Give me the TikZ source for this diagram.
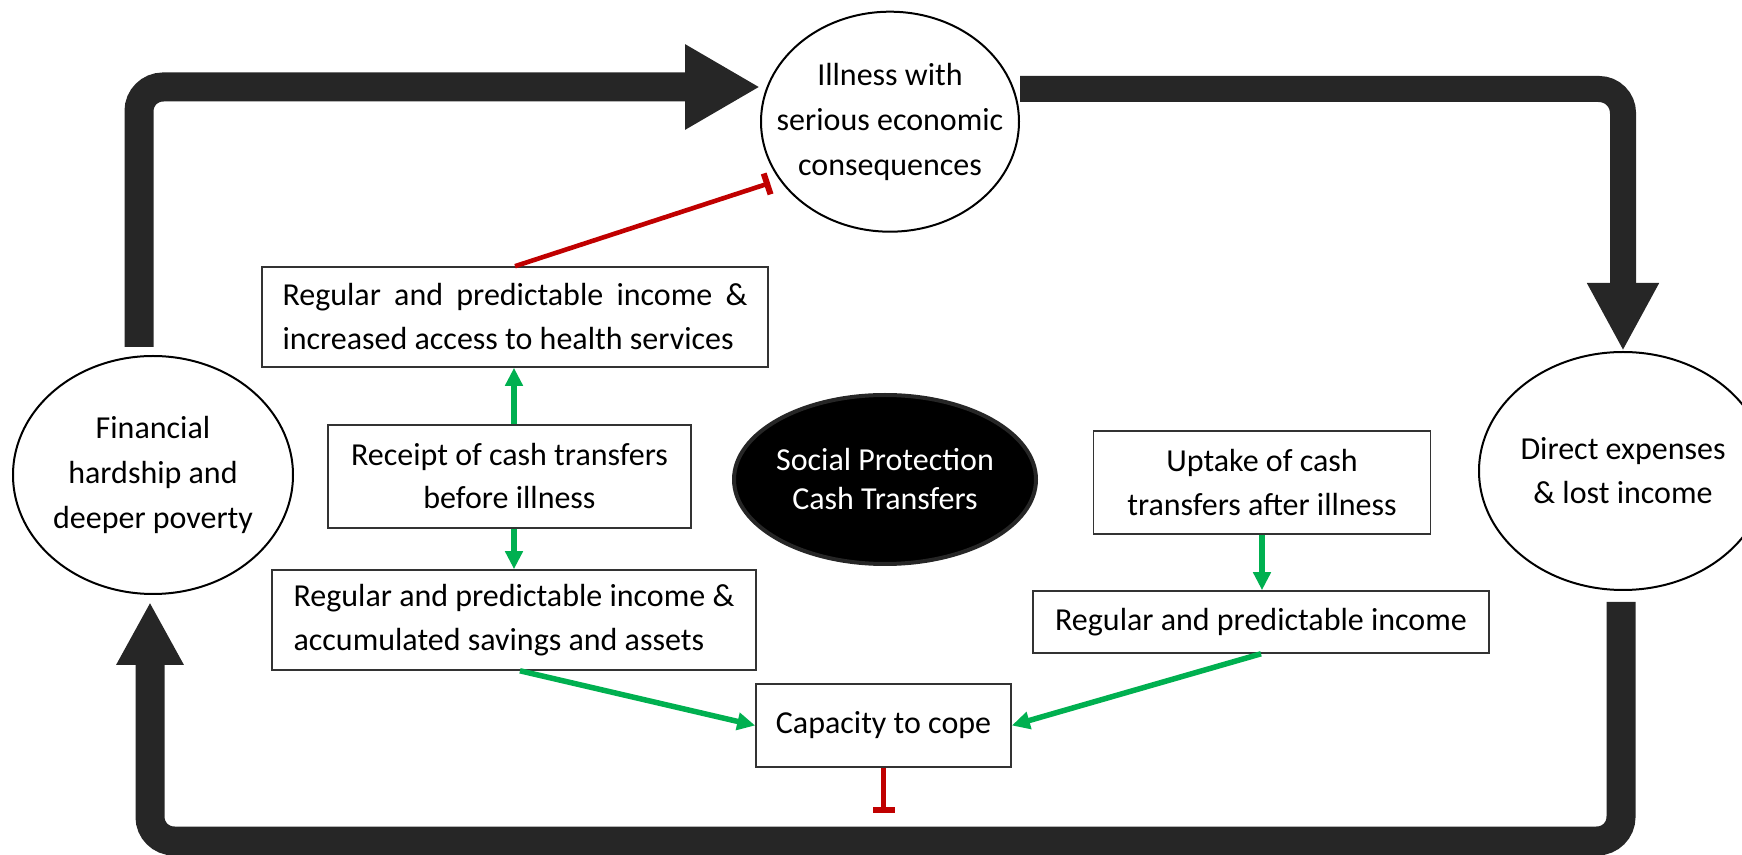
\documentclass[tikz,border=0pt]{standalone}
\usepackage{fontspec}
\setmainfont{Carlito}
\usetikzlibrary{arrows.meta,shapes.geometric,calc}
\definecolor{loopgray}{RGB}{38,38,38}
\definecolor{boostgreen}{RGB}{0,176,80}
\definecolor{blockred}{RGB}{192,0,0}
\begin{document}
\begin{tikzpicture}[x=0.5pt,y=-0.5pt,
  txt/.style={font=\fontsize{16}{22}\selectfont},
  stagebox/.style={draw=black!80, line width=0.8pt, fill=white, inner sep=0pt, align=center, txt},
  bubble/.style={ellipse, draw=black, line width=1pt, inner sep=0pt},
  cycleflow/.style={draw=loopgray, rounded corners=12pt},
  promote/.style={draw=boostgreen, line width=2.75pt, -{Triangle[length=9pt,width=8.5pt]}},
  inhibit/.style={draw=blockred, line width=2.3pt, -{Bar[width=11pt,line width=3pt]}},
]
\useasboundingbox (0,0) rectangle (1742,855);

% outer cycle states
\node[bubble, minimum width=129pt, minimum height=110pt,
  label={[txt, align=center, font=\fontsize{16}{22.5}\selectfont]center:{Illness with\\serious economic\\consequences}}]
  (illness) at (890,121.7) {};
\node[bubble, minimum width=140pt, minimum height=119pt,
  label={[txt, align=center, font=\fontsize{16}{22.5}\selectfont]center:{Financial\\hardship and\\deeper poverty}}]
  (fin) at (153,475) {};
\node[bubble, minimum width=144pt, minimum height=119pt,
  label={[txt, align=center]center:{Direct expenses\\\& lost income}}]
  (direct) at (1623,471) {};

% central programme
\node[ellipse, fill=black, draw=black!85, line width=2pt, inner sep=0pt,
  minimum width=151pt, minimum height=84.5pt,
  label={[txt, text=white, align=center, font=\fontsize{16}{19.5}\selectfont]center:{Social Protection\\Cash Transfers}}]
  (sp) at (885,479.5) {};

% pathways
\node[stagebox, minimum width=253pt, minimum height=50pt, align=justify, text width=232.5pt]
  (A) at (515,317) {Regular and predictable income \&\linebreak increased access to health services};
\node[stagebox, minimum width=181.5pt, minimum height=51.5pt, font=\fontsize{16}{21.5}\selectfont]
  (B) at (509.5,476.5) {Receipt of cash transfers\\before illness};
\node[stagebox, minimum width=242pt, minimum height=50pt, align=left]
  (C) at (514,620) {Regular and predictable income \&\\accumulated savings and assets};
\node[stagebox, minimum width=168.5pt, minimum height=51.5pt]
  (D) at (1262,482.5) {Uptake of cash\\transfers after illness};
\node[stagebox, minimum width=228pt, minimum height=31pt]
  (E) at (1261,622) {Regular and predictable income};
\node[stagebox, minimum width=127.5pt, minimum height=41.5pt]
  (F) at (883.5,725.5) {Capacity to cope};

% free ends of the cycle arrows and inhibitors
\coordinate (tlS) at (139,347);
\coordinate (tlT) at (760,87);
\coordinate (trS) at (1020,89);
\coordinate (bS) at (1621,602);
\coordinate (bT) at (150,602);
\coordinate (redTop) at (770,183);
\coordinate (redLow) at (883.5,813);

% vicious cycle
\draw[cycleflow, line width=14.5pt, -{Triangle[length=37.5pt,width=40pt]}] (tlS) |- (tlT);
\draw[cycleflow, line width=13pt, -{Triangle[length=34pt,width=33.5pt]}] (trS) -| (direct.north);
\draw[cycleflow, line width=14.5pt, -{Triangle[length=31.5pt,width=31.5pt]}] (bS) -- ++(0,239) -| (bT);

% positive effects
\draw[promote] (B.north -| C.north) -- (A.south -| C.north);
\draw[promote] (B.south -| C.north) -- (C.north);
\draw[promote] (D.south) -- (D.south |- E.north);
\draw[promote] ([xshift=3pt]C.south) -- (F.west);
\draw[promote] (E.south) -- (F.east);

% protective effects
\draw[inhibit] (A.north) -- (redTop);
\draw[inhibit] (F.south) -- (redLow);
\end{tikzpicture}
\end{document}
